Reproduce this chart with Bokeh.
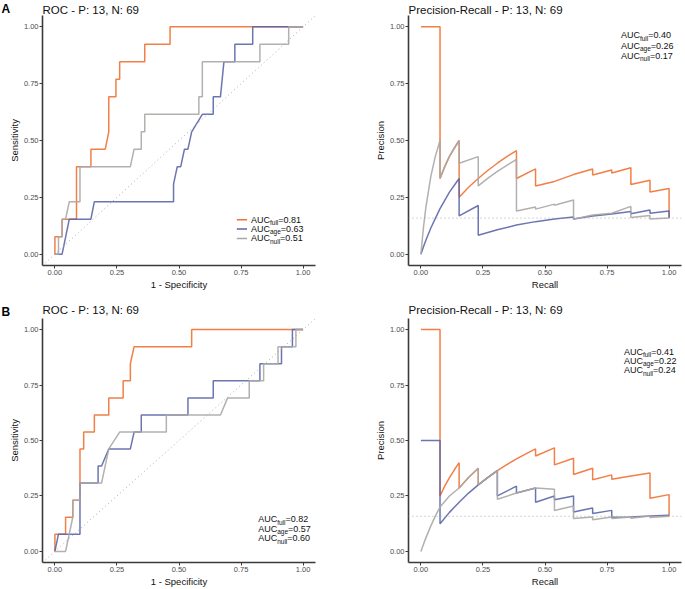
from bokeh.plotting import figure
from bokeh.models import FixedTicker, Slope, Span, Title
from bokeh.layouts import row, column
from bokeh.core.properties import value
from bokeh.embed import file_html
from bokeh.resources import INLINE

# ---------------- data ----------------
tick_values = [0.0, 0.25, 0.5, 0.75, 1.0]
tick_labels = ["0.00", "0.25", "0.50", "0.75", "1.00"]
title_roc = "ROC - P: 13, N: 69"
title_pr = "Precision-Recall - P: 13, N: 69"
models = ["full", "age", "null"]
baseline_prec = 0.1585

# Panel A, ROC (x = 1 - specificity, y = sensitivity)
a_roc_full_x = [0, 0, 0.029, 0.029, 0.087, 0.087, 0.145, 0.145, 0.203, 0.217, 0.217, 0.246, 0.246, 0.261, 0.261, 0.362, 0.362, 0.464, 0.464, 1.0]
a_roc_full_y = [0, 0.077, 0.077, 0.154, 0.154, 0.385, 0.385, 0.462, 0.462, 0.538, 0.692, 0.692, 0.769, 0.769, 0.846, 0.846, 0.923, 0.923, 1.0, 1.0]
a_roc_age_x = [0, 0.029, 0.058, 0.145, 0.159, 0.478, 0.478, 0.493, 0.507, 0.522, 0.536, 0.551, 0.594, 0.638, 0.638, 0.667, 0.681, 0.725, 0.725, 0.797, 0.797, 1.0]
a_roc_age_y = [0, 0, 0.154, 0.154, 0.231, 0.231, 0.308, 0.385, 0.385, 0.462, 0.462, 0.538, 0.615, 0.615, 0.692, 0.692, 0.846, 0.846, 0.923, 0.923, 1.0, 1.0]
a_roc_null_x = [0, 0.0145, 0.0145, 0.029, 0.029, 0.043, 0.058, 0.101, 0.101, 0.304, 0.319, 0.348, 0.348, 0.362, 0.362, 0.580, 0.580, 0.594, 0.594, 0.826, 0.826, 0.942, 0.942, 1.0]
a_roc_null_y = [0, 0, 0.077, 0.077, 0.154, 0.154, 0.231, 0.231, 0.385, 0.385, 0.462, 0.462, 0.538, 0.538, 0.615, 0.615, 0.692, 0.692, 0.846, 0.846, 0.923, 0.923, 1.0, 1.0]
a_roc_auc = ["0.81", "0.63", "0.51"]

# Panel A, Precision-Recall
a_pr_full_x = [0, 0.077, 0.077, 0.096, 0.115, 0.135, 0.154, 0.154, 0.192, 0.231, 0.269, 0.308, 0.346, 0.385, 0.385, 0.462, 0.462, 0.538, 0.615, 0.692, 0.692, 0.769, 0.769, 0.846, 0.846, 0.923, 0.923, 1.0, 1.0]
a_pr_full_y = [1.0, 1.0, 0.333, 0.385, 0.43, 0.467, 0.5, 0.25, 0.294, 0.333, 0.368, 0.40, 0.429, 0.455, 0.333, 0.375, 0.30, 0.32, 0.35, 0.375, 0.348, 0.37, 0.357, 0.38, 0.306, 0.325, 0.273, 0.289, 0.159]
a_pr_age_x = [0, 0.01, 0.02, 0.04, 0.077, 0.115, 0.154, 0.154, 0.231, 0.231, 0.308, 0.385, 0.462, 0.538, 0.615, 0.615, 0.692, 0.769, 0.846, 0.846, 0.923, 0.923, 1.0, 1.0]
a_pr_age_y = [0, 0.031, 0.061, 0.115, 0.2, 0.273, 0.333, 0.168, 0.214, 0.083, 0.107, 0.128, 0.143, 0.155, 0.163, 0.155, 0.168, 0.177, 0.188, 0.178, 0.194, 0.18, 0.19, 0.159]
a_pr_null_x = [0, 0.01, 0.02, 0.04, 0.058, 0.077, 0.077, 0.096, 0.115, 0.135, 0.154, 0.154, 0.231, 0.231, 0.269, 0.308, 0.346, 0.385, 0.385, 0.462, 0.462, 0.538, 0.538, 0.615, 0.615, 0.692, 0.769, 0.846, 0.846, 0.923, 0.923, 1.0]
a_pr_null_y = [0, 0.115, 0.206, 0.342, 0.43, 0.5, 0.333, 0.385, 0.43, 0.467, 0.5, 0.4, 0.429, 0.3, 0.333, 0.364, 0.391, 0.417, 0.19, 0.207, 0.198, 0.22, 0.215, 0.238, 0.154, 0.172, 0.18, 0.21, 0.161, 0.17, 0.155, 0.159]
a_pr_auc = ["0.40", "0.26", "0.17"]

# Panel B, ROC
b_roc_full_x = [0, 0, 0.043, 0.043, 0.072, 0.072, 0.101, 0.101, 0.116, 0.116, 0.159, 0.159, 0.217, 0.217, 0.275, 0.275, 0.304, 0.304, 0.319, 0.551, 0.551, 1.0]
b_roc_full_y = [0, 0.077, 0.077, 0.154, 0.154, 0.231, 0.231, 0.462, 0.462, 0.538, 0.538, 0.615, 0.615, 0.692, 0.692, 0.769, 0.769, 0.846, 0.923, 0.923, 1.0, 1.0]
b_roc_age_x = [0, 0.014, 0.101, 0.101, 0.174, 0.174, 0.188, 0.217, 0.304, 0.319, 0.348, 0.348, 0.536, 0.536, 0.638, 0.638, 0.826, 0.826, 0.913, 0.913, 0.957, 0.957, 1.0]
b_roc_age_y = [0, 0.077, 0.077, 0.308, 0.308, 0.385, 0.385, 0.462, 0.462, 0.538, 0.538, 0.615, 0.615, 0.692, 0.692, 0.769, 0.769, 0.846, 0.846, 0.923, 0.923, 1.0, 1.0]
b_roc_null_x = [0, 0.043, 0.072, 0.072, 0.101, 0.101, 0.188, 0.217, 0.261, 0.449, 0.449, 0.667, 0.696, 0.783, 0.783, 0.841, 0.841, 0.899, 0.899, 0.971, 0.971, 1.0]
b_roc_null_y = [0, 0, 0.154, 0.231, 0.231, 0.308, 0.308, 0.462, 0.538, 0.538, 0.615, 0.615, 0.692, 0.692, 0.769, 0.769, 0.846, 0.846, 0.923, 0.923, 1.0, 1.0]
b_roc_auc = ["0.82", "0.57", "0.60"]

# Panel B, Precision-Recall
b_pr_full_x = [0, 0.077, 0.077, 0.096, 0.115, 0.135, 0.154, 0.154, 0.192, 0.231, 0.231, 0.269, 0.308, 0.346, 0.385, 0.423, 0.462, 0.462, 0.538, 0.538, 0.615, 0.615, 0.692, 0.692, 0.769, 0.769, 0.846, 0.923, 0.923, 1.0, 1.0]
b_pr_full_y = [1.0, 1.0, 0.25, 0.294, 0.333, 0.368, 0.4, 0.286, 0.333, 0.375, 0.3, 0.333, 0.364, 0.391, 0.417, 0.44, 0.462, 0.43, 0.467, 0.39, 0.42, 0.347, 0.375, 0.323, 0.345, 0.325, 0.34, 0.353, 0.24, 0.256, 0.159]
b_pr_age_x = [0, 0.077, 0.077, 0.115, 0.154, 0.192, 0.231, 0.269, 0.308, 0.308, 0.385, 0.385, 0.462, 0.462, 0.538, 0.538, 0.615, 0.615, 0.692, 0.692, 0.769, 0.769, 0.846, 0.923, 1.0]
b_pr_age_y = [0.5, 0.5, 0.125, 0.176, 0.222, 0.263, 0.3, 0.333, 0.364, 0.25, 0.294, 0.263, 0.286, 0.222, 0.25, 0.233, 0.25, 0.178, 0.196, 0.171, 0.185, 0.154, 0.155, 0.16, 0.163]
b_pr_null_x = [0, 0.01, 0.02, 0.04, 0.058, 0.077, 0.115, 0.154, 0.192, 0.231, 0.231, 0.269, 0.308, 0.308, 0.385, 0.462, 0.538, 0.538, 0.615, 0.615, 0.692, 0.692, 0.769, 0.769, 0.846, 0.846, 0.923, 0.923, 1.0]
b_pr_null_y = [0, 0.031, 0.061, 0.115, 0.159, 0.2, 0.25, 0.286, 0.333, 0.375, 0.3, 0.333, 0.364, 0.235, 0.263, 0.286, 0.28, 0.184, 0.205, 0.148, 0.155, 0.143, 0.155, 0.148, 0.155, 0.15, 0.16, 0.153, 0.159]
b_pr_auc = ["0.41", "0.22", "0.24"]

# ---------------- style ----------------
COLORS = {"full": "#EF7133", "age": "#5B66A9", "null": "#ABA7A5"}
FONT = "Liberation Sans"
AX_COL = "#3A3A3A"
TICK_COL = "#4D4D4D"
LW = 1.5

# Liberation Sans advance widths (per 1000 em) for the label pieces
ADV = {"A": 667, "U": 722, "C": 722, "f": 278, "u": 556, "l": 222, "a": 556, "g": 556, "e": 556, "n": 556}


def text_w(s, size):
    return sum(ADV.get(c, 556) for c in s) * size / 1000.0


COL_W = [340, 345]
ROW_H = [292, 297]
TOP_B = [15, 26]
BOT_B = [27, 25]
LEFT_B = [42, 68]
RIGHT_B = [25, 4]
TITLE_STANDOFF = [0, 6]
LETTER_STANDOFF = [-28, -40]
RANGE = (-0.05, 1.05)


def title_kw(rw):
    return dict(text_font=FONT, text_font_size="11.5px", text_font_style="normal",
                text_color="#111111", align="left", offset=0, standoff=TITLE_STANDOFF[rw])


def make_fig(col, rw, title, xlabel, ylabel, letter=None):
    p = figure(width=COL_W[col], height=ROW_H[rw], x_range=RANGE, y_range=RANGE,
               output_backend="svg", toolbar_location=None,
               min_border_left=LEFT_B[col], min_border_right=RIGHT_B[col],
               min_border_top=TOP_B[rw], min_border_bottom=BOT_B[rw])
    if letter is None:
        p.title = Title(text=title, **title_kw(rw))
    else:
        # panel letter as the outer title, plot title as the inner one
        p.title = Title(text=letter, align="left", offset=-(LEFT_B[col] - 1), standoff=LETTER_STANDOFF[rw],
                        text_font=FONT, text_font_size="12px", text_font_style="bold", text_color="black")
        p.add_layout(Title(text=title, **title_kw(rw)), "above")
    p.grid.visible = False
    p.outline_line_color = None
    p.background_fill_color = "white"
    p.border_fill_color = "white"
    for ax, lab in ((p.xaxis, xlabel), (p.yaxis, ylabel)):
        ax.ticker = FixedTicker(ticks=tick_values)
        ax.major_label_overrides = dict(zip(tick_values, tick_labels))
        ax.axis_label = lab
        ax.axis_label_text_font = FONT
        ax.axis_label_text_font_size = "9.5px"
        ax.axis_label_text_font_style = "normal"
        ax.axis_label_text_color = "#111111"
        ax.axis_label_standoff = 1
        ax.major_label_text_font = FONT
        ax.major_label_text_font_size = "7.5px"
        ax.major_label_text_color = TICK_COL
        ax.major_label_standoff = 1
        ax.axis_line_color = AX_COL
        ax.axis_line_width = 1.6
        ax.major_tick_line_color = AX_COL
        ax.major_tick_in = 0
        ax.major_tick_out = 3
        ax.minor_tick_line_color = None
    return p


def auc_text(p, x, y, sub, val, size=9.0, sub_size=6.5):
    base = "AUC"
    w1 = text_w(base, size)
    w2 = text_w(sub, sub_size)
    common = dict(text_font=value(FONT), text_baseline="middle", text_align="left", text_color="#111111")
    p.text(x=[x], y=[y], text=[base], text_font_size=f"{size}px", **common)
    p.text(x=[x], y=[y], text=[sub], text_font_size=f"{sub_size}px", x_offset=w1, y_offset=3, **common)
    p.text(x=[x], y=[y], text=["=" + val], text_font_size=f"{size}px", x_offset=w1 + w2, **common)


def draw_curves(p, xs, ys):
    for m, x, y in zip(models, xs, ys):
        p.line(x, y, line_color=COLORS[m], line_width=LW, line_alpha=0.9)


# ---- Panel A ROC
pa1 = make_fig(0, 0, title_roc, "1 - Specificity", "Sensitivity", letter="A")
pa1.add_layout(Slope(gradient=1, y_intercept=0, line_color="#AAAAAA", line_dash="1 3", line_width=1))
draw_curves(pa1, [a_roc_full_x, a_roc_age_x, a_roc_null_x], [a_roc_full_y, a_roc_age_y, a_roc_null_y])
leg_x0, leg_x1, leg_tx = 0.733, 0.774, 0.79
leg_rows = [0.151, 0.111, 0.069]
for m, ly, val in zip(models, leg_rows, a_roc_auc):
    pa1.line([leg_x0, leg_x1], [ly, ly], line_color=COLORS[m], line_width=LW)
    auc_text(pa1, leg_tx, ly, m, val)

# ---- Panel A PR
pa2 = make_fig(1, 0, title_pr, "Recall", "Precision")
pa2.add_layout(Span(location=baseline_prec, dimension="width", line_color="#AAAAAA", line_dash="1 3", line_width=1))
draw_curves(pa2, [a_pr_full_x, a_pr_age_x, a_pr_null_x], [a_pr_full_y, a_pr_age_y, a_pr_null_y])
for m, ty, val in zip(models, [0.963, 0.916, 0.872], a_pr_auc):
    auc_text(pa2, 0.806, ty, m, val)

# ---- Panel B ROC
pb1 = make_fig(0, 1, title_roc, "1 - Specificity", "Sensitivity", letter="B")
pb1.add_layout(Slope(gradient=1, y_intercept=0, line_color="#AAAAAA", line_dash="1 3", line_width=1))
draw_curves(pb1, [b_roc_full_x, b_roc_age_x, b_roc_null_x], [b_roc_full_y, b_roc_age_y, b_roc_null_y])
for m, ty, val in zip(models, [0.146, 0.103, 0.059], b_roc_auc):
    auc_text(pb1, 0.819, ty, m, val)

# ---- Panel B PR
pb2 = make_fig(1, 1, title_pr, "Recall", "Precision")
pb2.add_layout(Span(location=baseline_prec, dimension="width", line_color="#AAAAAA", line_dash="1 3", line_width=1))
draw_curves(pb2, [b_pr_full_x, b_pr_age_x, b_pr_null_x], [b_pr_full_y, b_pr_age_y, b_pr_null_y])
for m, ty, val in zip(models, [0.90, 0.859, 0.816], b_pr_auc):
    auc_text(pb2, 0.818, ty, m, val)

layout = column(row(pa1, pa2), row(pb1, pb2))
open("out.html", "w").write(file_html(layout, INLINE))
